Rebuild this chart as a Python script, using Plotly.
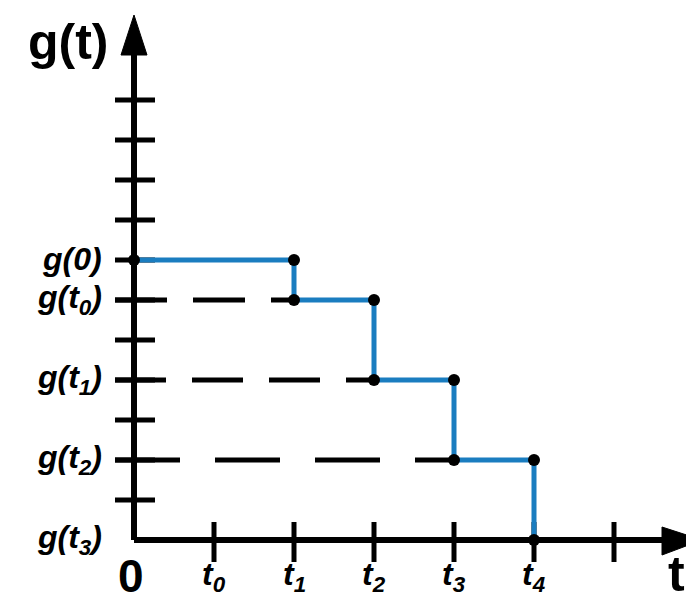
"""Step function g(t) sketch."""

import plotly.graph_objects as go

# step function data
step_t = [0, 2, 2, 3, 3, 4, 4, 5, 5]
step_g = [7, 7, 6, 6, 4, 4, 2, 2, 0]

# dashed guide levels and where they end on t
guide_levels = [6, 4, 2]
guide_ends = [2, 3, 4]
guide_dashes = ["52px,26px", "51px,26px", "65px,35px"]

# ticks
t_ticks = [1, 2, 3, 4, 5, 6]
t_labels = ["t<sub>0</sub>", "t<sub>1</sub>", "t<sub>2</sub>", "t<sub>3</sub>", "t<sub>4</sub>", ""]
g_ticks = [1, 2, 3, 4, 5, 6, 7, 8, 9, 10, 11]
g_label_pos = [7, 6, 4, 2, 0]
g_labels = ["g(0)", "g(t<sub>0</sub>)", "g(t<sub>1</sub>)", "g(t<sub>2</sub>)", "g(t<sub>3</sub>)"]

BLUE = "#1a7dc0"
BLACK = "#000000"
W, H = 686, 597
X0, Y0, SX, SY = 134, 540, 80, 40  # pixel origin and px per unit


def px_x(p):
    return (p - X0) / SX


def px_y(p):
    return (Y0 - p) / SY


fig = go.Figure()

# dashed guides
for lev, end, dash in zip(guide_levels, guide_ends, guide_dashes):
    fig.add_trace(go.Scatter(x=[px_x(115), end], y=[lev, lev], mode="lines",
                             line=dict(color=BLACK, width=5, dash=dash), hoverinfo="skip"))

# tick marks crossing the axes
tx, ty = [], []
for t in t_ticks:
    tx += [t, t, None]
    ty += [px_y(562), px_y(522), None]
for g in g_ticks:
    tx += [px_x(115), px_x(155), None]
    ty += [g, g, None]
fig.add_trace(go.Scatter(x=tx, y=ty, mode="lines", line=dict(color=BLACK, width=5), hoverinfo="skip"))

# axes
fig.add_trace(go.Scatter(x=[0, 0, None, 0, px_x(670)], y=[px_y(45), 0, None, 0, 0], mode="lines",
                         line=dict(color=BLACK, width=6), hoverinfo="skip"))
# arrow heads
fig.add_trace(go.Scatter(x=[px_x(121), 0, px_x(147), px_x(121)],
                         y=[px_y(55), px_y(15), px_y(55), px_y(55)],
                         mode="lines", fill="toself", fillcolor=BLACK, line=dict(color=BLACK, width=1),
                         hoverinfo="skip"))
fig.add_trace(go.Scatter(x=[px_x(662), px_x(702), px_x(662), px_x(662)],
                         y=[px_y(527), 0, px_y(555), px_y(527)],
                         mode="lines", fill="toself", fillcolor=BLACK, line=dict(color=BLACK, width=1),
                         hoverinfo="skip"))

# step function
fig.add_trace(go.Scatter(x=step_t, y=step_g, mode="lines", line=dict(color=BLUE, width=5),
                         hoverinfo="skip"))
fig.add_trace(go.Scatter(x=step_t, y=step_g, mode="markers",
                         marker=dict(color=BLACK, size=12), hoverinfo="skip"))

font = "Liberation Sans, Arial, sans-serif"

for pos, lab in zip(g_label_pos, g_labels):
    fig.add_annotation(x=px_x(104), y=pos, text="<b><i>" + lab + "</i></b>", showarrow=False,
                       xanchor="right", yanchor="middle", yshift=1,
                       font=dict(family=font, size=32, color=BLACK))

for t, lab in zip(t_ticks, t_labels):
    if lab:
        fig.add_annotation(x=t, y=px_y(576), text="<b><i>" + lab + "</i></b>", showarrow=False,
                           xanchor="center", yanchor="middle",
                           font=dict(family=font, size=32, color=BLACK))

fig.add_annotation(x=px_x(131), y=px_y(576), text="<b>0</b>", showarrow=False,
                   xanchor="center", yanchor="middle", font=dict(family=font, size=46, color=BLACK))
fig.add_annotation(x=px_x(676), y=px_y(574), text="<b>t</b>", showarrow=False,
                   xanchor="center", yanchor="middle", font=dict(family=font, size=50, color=BLACK))
fig.add_annotation(x=px_x(68), y=px_y(42), text="<b>g(t)</b>", showarrow=False,
                   xanchor="center", yanchor="middle", font=dict(family=font, size=50, color=BLACK))

fig.update_layout(
    width=W, height=H, margin=dict(l=0, r=0, t=0, b=0),
    paper_bgcolor="white", plot_bgcolor="white", showlegend=False,
    xaxis=dict(range=[px_x(0), px_x(W)], visible=False, fixedrange=True),
    yaxis=dict(range=[px_y(H), px_y(0)], visible=False, fixedrange=True),
)

fig.write_html("out.html", config={"displayModeBar": False},
               post_script="document.body.style.margin='0';document.body.style.overflow='hidden';")
